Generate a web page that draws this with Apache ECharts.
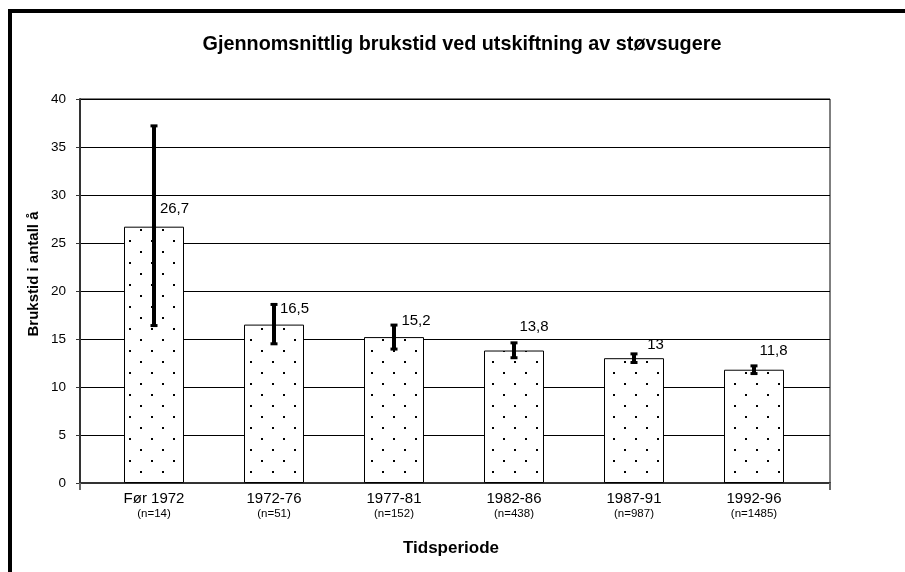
<!DOCTYPE html>
<html>
<head>
<meta charset="utf-8">
<script src="https://cdn.jsdelivr.net/npm/echarts@6/dist/echarts.min.js"></script>
<style>
html,body{margin:0;padding:0;background:#fff;}
#chart{width:905px;height:572px;}
</style>
</head>
<body>
<div id="chart"></div>
<script>
const categories = ['Før 1972', '1972-76', '1977-81', '1982-86', '1987-91', '1992-96'];
const sampleSizes = ['(n=14)', '(n=51)', '(n=152)', '(n=438)', '(n=987)', '(n=1485)'];
const meanYears = [26.7, 16.5, 15.2, 13.8, 13, 11.8];
const errLow = [16.4, 14.5, 13.95, 13.05, 12.55, 11.4];
const errHigh = [37.2, 18.6, 16.45, 14.6, 13.45, 12.2];

const titleText = 'Gjennomsnittlig brukstid ved utskiftning av støvsugere';
const yTitle = 'Brukstid i antall å';
const xTitle = 'Tidsperiode';

// label offsets (styling only)
const labelOffsets = [[20.5, -10], [20.5, -8], [22, -9], [20, -16], [21.5, -6], [19.5, -11.5]];

const FONT = '"Liberation Sans", Arial, sans-serif';

// dotted fill pattern
const pc = document.createElement('canvas');
pc.width = 22; pc.height = 22;
const pctx = pc.getContext('2d');
pctx.fillStyle = '#fff'; pctx.fillRect(0, 0, 22, 22);
pctx.fillStyle = '#000';
pctx.fillRect(8, 9, 2, 2);
pctx.fillRect(19, 20, 2, 2);

const chart = echarts.init(document.getElementById('chart'), null, {renderer: 'canvas'});

const barData = meanYears.map((v, i) => ({
  value: v,
  label: {offset: labelOffsets[i]}
}));
const errData = meanYears.map((v, i) => [i, errLow[i], errHigh[i]]);

const option = {
  animation: false,
  backgroundColor: '#fff',
  title: {
    text: titleText,
    left: 462, top: 35, padding: 0, textAlign: 'center',
    textStyle: {fontFamily: FONT, fontWeight: 'bold', fontSize: 19.8, color: '#000'}
  },
  graphic: [
    {type: 'rect', shape: {x: 8, y: 9, width: 897, height: 4}, style: {fill: '#000'}, silent: true},
    {type: 'rect', shape: {x: 8, y: 9, width: 4, height: 563}, style: {fill: '#000'}, silent: true},
    {type: 'text', x: 34, y: 274, rotation: Math.PI / 2,
      style: {text: yTitle, font: 'bold 15px ' + FONT, fill: '#000', align: 'center', verticalAlign: 'middle'}},
    {type: 'text', x: 451, y: 548,
      style: {text: xTitle, font: 'bold 17px ' + FONT, fill: '#000', align: 'center', verticalAlign: 'middle'}}
  ],
  grid: [
    {left: 80, top: 99, right: 75, bottom: 89, show: true, borderColor: '#000', borderWidth: 1, backgroundColor: 'transparent'},
    {left: 94, top: 99, right: 91, bottom: 89}
  ],
  xAxis: [
    {gridIndex: 0, type: 'value', min: 0, max: 1, interval: 1,
      axisLine: {show: true, lineStyle: {color: '#333', width: 2}},
      axisTick: {show: true, length: 7, lineStyle: {color: '#666', width: 2}},
      axisLabel: {show: false}, splitLine: {show: false}},
    {gridIndex: 1, type: 'category', data: categories,
      axisLine: {show: false}, axisTick: {show: false},
      axisLabel: {
        margin: 8, interval: 0,
        formatter: (v, i) => '{a|' + v + '}\n{b|' + sampleSizes[i] + '}',
        rich: {
          a: {fontFamily: FONT, fontSize: 15, lineHeight: 15, color: '#000'},
          b: {fontFamily: FONT, fontSize: 11.5, lineHeight: 16, color: '#000'}
        }
      }}
  ],
  yAxis: [
    {gridIndex: 0, type: 'value', min: 0, max: 40, interval: 5,
      axisLine: {show: true, lineStyle: {color: '#333', width: 2}},
      axisTick: {show: true, length: 4, lineStyle: {color: '#333', width: 1}},
      axisLabel: {margin: 14, fontFamily: FONT, fontSize: 13.5, color: '#000'},
      splitLine: {show: true, lineStyle: {color: '#000', width: 1}}},
    {gridIndex: 1, type: 'value', min: 0, max: 40, interval: 5, show: false}
  ],
  series: [
    {
      type: 'bar', xAxisIndex: 1, yAxisIndex: 1,
      data: barData, barWidth: 60,
      itemStyle: {color: {image: pc, repeat: 'repeat'}, borderColor: '#000', borderWidth: 1},
      label: {
        show: true, position: 'top', distance: 0,
        fontFamily: FONT, fontSize: 15, lineHeight: 15, color: '#000',
        formatter: p => String(p.value).replace('.', ',')
      },
      z: 2
    },
    {
      type: 'custom', xAxisIndex: 1, yAxisIndex: 1,
      data: errData,
      encode: {x: 0, y: [1, 2]},
      z: 3,
      renderItem: (params, api) => {
        const i = api.value(0);
        const lo = api.coord([i, api.value(1)]);
        const hi = api.coord([i, api.value(2)]);
        const x = lo[0];
        return {
          type: 'group',
          children: [
            {type: 'rect', shape: {x: x - 2, y: hi[1], width: 4, height: lo[1] - hi[1]}, style: {fill: '#000'}},
            {type: 'rect', shape: {x: x - 3.5, y: hi[1] - 1.5, width: 7, height: 3}, style: {fill: '#000'}},
            {type: 'rect', shape: {x: x - 3.5, y: lo[1] - 1.5, width: 7, height: 3}, style: {fill: '#000'}}
          ]
        };
      }
    }
  ]
};
chart.setOption(option);
</script>
</body>
</html>
